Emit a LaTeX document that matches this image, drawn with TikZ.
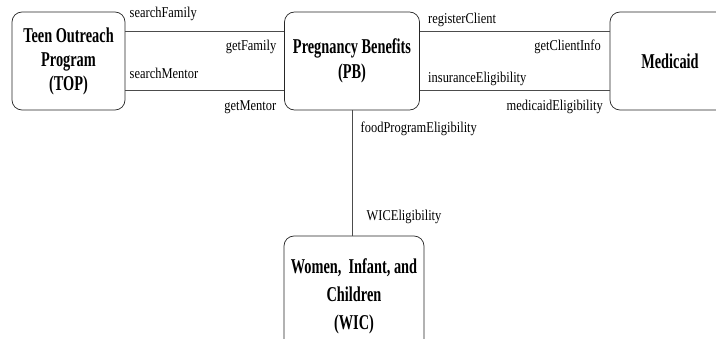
\documentclass[tikz,border=0pt]{standalone}
\usepackage{fontspec}
\setmainfont{Liberation Serif}
\newfontfamily\msgfont[FakeStretch=0.83]{Liberation Serif}
\newfontfamily\sysfont[FakeStretch=0.68]{Liberation Serif}
\usetikzlibrary{positioning}

\tikzset{
	sysbox/.style={draw=black!85, line width=0.6pt, rounded corners=0.3cm, align=center,
		font=\sysfont\bfseries\fontsize{18}{20.5}\selectfont, inner sep=0pt},
	msg/.style={inner sep=0pt, font=\msgfont\fontsize{12.8}{14}\selectfont},
	link/.style={draw=black!70, line width=0.6pt}
}

\begin{document}
\begin{tikzpicture}[x=0.03cm, y=-0.03cm]

\def\upy{31.5}
\def\lowy{90}

\useasboundingbox (0,0) rectangle (716,339);

% systems
\node [sysbox, minimum width=3.39cm, minimum height=2.94cm] (top) at (68.5,61)
	{Teen Outreach\\Program\\(TOP)};
\node [sysbox, minimum width=4.05cm, minimum height=2.94cm,
	font=\sysfont\bfseries\fontsize{18}{21.5}\selectfont] (pb) at (352,61)
	{Pregnancy Benefits\\(PB)};
\node [sysbox, minimum width=3.6cm, minimum height=2.94cm] (med) at (670,61)
	{Medicaid};
\node [sysbox, minimum width=4.2cm, minimum height=3.6cm,
	font=\sysfont\bfseries\fontsize{18}{24}\selectfont]
	(wic) at (354,296) {Women,\ \ Infant, and\\Children\\(WIC)};

% links
\coordinate (up) at (0,\upy);
\coordinate (low) at (0,\lowy);
\draw [link] (top.east |- up) -- (pb.west |- up);
\draw [link] (top.east |- low) -- (pb.west |- low);
\draw [link] (pb.east |- up) -- (med.west |- up);
\draw [link] (pb.east |- low) -- (med.west |- low);
\draw [link] (pb.south) -- (wic.north -| pb.south);

% messages
\node [msg, anchor=west] (searchfam) at (129.5,14) {searchFamily};
\node [msg, anchor=east] (getfam) at (276.5,47) {getFamily};
\node [msg, anchor=west] (searchment) at (129.5,73) {searchMentor};
\node [msg, anchor=east] (getment) at (276.5,107) {getMentor};

\node [msg, anchor=west] (regclient) at (428,20) {registerClient};
\node [msg, anchor=east] (getclient) at (601,47) {getClientInfo};
\node [msg, anchor=west] (insel) at (428,79) {insuranceEligibility};
\node [msg, anchor=east] (medel) at (603,107) {medicaidEligibility};

\node [msg, anchor=west] (foodel) at (360.5,129) {foodProgramEligibility};
\node [msg, anchor=west] (wicel) at (366.5,217) {WICEligibility};

\end{tikzpicture}
\end{document}
